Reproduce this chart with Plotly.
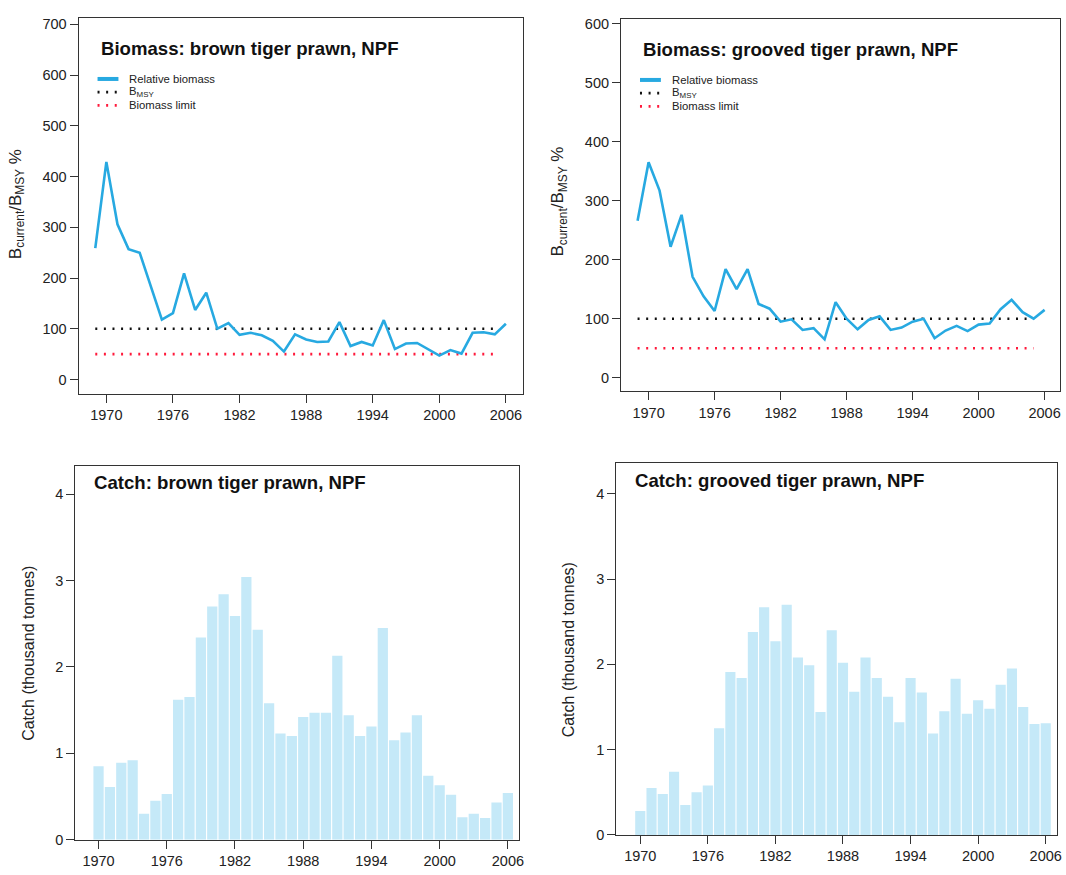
import plotly.graph_objects as go

# ---- data -------------------------------------------------------------
years_bio = list(range(1969, 2007))
brown_biomass = [259, 429, 306, 257, 250, 185, 118, 131, 209, 137,
                 171, 100, 111, 88, 92, 87, 76, 55, 89, 79,
                 74, 75, 113, 66, 74, 67, 117, 60, 71, 72,
                 59, 47, 58, 51, 92, 93, 89, 110]
grooved_biomass = [266, 365, 317, 222, 276, 171, 138, 113, 184, 150,
                   184, 125, 117, 95, 99, 81, 84, 65, 128, 100,
                   82, 98, 104, 81, 85, 95, 100, 67, 80, 88,
                   79, 90, 92, 116, 132, 111, 100, 115]
bmsy_level = 100
limit_level = 50
ref_years = list(range(1969, 2006))

years_catch = list(range(1970, 2007))
brown_catch = [0.85, 0.61, 0.89, 0.92, 0.30, 0.45, 0.53, 1.62, 1.65, 2.34,
               2.70, 2.84, 2.59, 3.04, 2.43, 1.58, 1.23, 1.20, 1.42, 1.47,
               1.47, 2.13, 1.44, 1.20, 1.31, 2.45, 1.15, 1.24, 1.44, 0.74,
               0.63, 0.52, 0.26, 0.30, 0.25, 0.43, 0.54]
grooved_catch = [0.28, 0.55, 0.48, 0.74, 0.35, 0.50, 0.58, 1.25, 1.91, 1.84,
                 2.38, 2.67, 2.27, 2.70, 2.08, 1.99, 1.44, 2.40, 2.02, 1.68,
                 2.08, 1.84, 1.62, 1.32, 1.84, 1.67, 1.19, 1.45, 1.83, 1.42,
                 1.58, 1.48, 1.76, 1.95, 1.50, 1.30, 1.31]

year_ticks = [1970, 1976, 1982, 1988, 1994, 2000, 2006]

# ---- styling ------------------------------------------------------------
W, H = 1066, 875
FONT = "Liberation Sans, Arial, Helvetica, sans-serif"
INK = "#222222"
LINE_BLUE = "#27a9e1"
BAR_BLUE = "#c5e9f8"
DOT = "2px,6.6px"


def px(x):
    return x / W


def py(y):
    return 1 - y / H


fig = go.Figure()

# biomass panels
for biomass, xa, ya in [(brown_biomass, "x", "y"), (grooved_biomass, "x2", "y2")]:
    fig.add_trace(go.Scatter(x=ref_years, y=[bmsy_level] * len(ref_years),
                             mode="lines", xaxis=xa, yaxis=ya,
                             line=dict(color="#111111", width=2.6, dash=DOT),
                             showlegend=False, hoverinfo="skip"))
    fig.add_trace(go.Scatter(x=ref_years, y=[limit_level] * len(ref_years),
                             mode="lines", xaxis=xa, yaxis=ya,
                             line=dict(color="#ff1a3c", width=2.6, dash=DOT),
                             showlegend=False, hoverinfo="skip"))
    fig.add_trace(go.Scatter(x=years_bio, y=biomass, mode="lines",
                             xaxis=xa, yaxis=ya,
                             line=dict(color=LINE_BLUE, width=2.6),
                             showlegend=False))

# catch panels
for catch, xa, ya in [(brown_catch, "x3", "y3"), (grooved_catch, "x4", "y4")]:
    fig.add_trace(go.Bar(x=years_catch, y=catch, xaxis=xa, yaxis=ya,
                         marker=dict(color=BAR_BLUE, line=dict(width=0)),
                         width=0.9, showlegend=False))

axis_common = dict(showline=True, mirror=True, linecolor="#333333", linewidth=1.2,
                   ticks="outside", ticklen=8, tickwidth=1, tickcolor="#333333",
                   showgrid=False, zeroline=False,
                   tickfont=dict(family=FONT, size=14.5, color=INK))

panels = {
    # name: (left, top, right, bottom) in pixels
    "1": (79, 14, 525, 395),
    "2": (624, 15.7, 1065, 392.7),
    "3": (75.7, 468, 521.7, 847.3),
    "4": (619.3, 465.7, 1062.3, 842.5),
}
ranges_y = {"1": [-27.8, 713], "2": [-23, 607], "3": [0, 4.33], "4": [0, 4.357]}
ranges_x = {"1": [1967.5, 2007.5], "2": [1967.5, 2007.4],
            "3": [1967.96, 2007.0], "4": [1967.88, 2007.03]}

layout_axes = {}
for k, (l, t, r, b) in panels.items():
    xname = "xaxis" if k == "1" else f"xaxis{k}"
    yname = "yaxis" if k == "1" else f"yaxis{k}"
    anchor_x = "y" if k == "1" else f"y{k}"
    anchor_y = "x" if k == "1" else f"x{k}"
    layout_axes[xname] = dict(axis_common, domain=[px(l), px(r)], anchor=anchor_x,
                              range=ranges_x[k], tickmode="array",
                              tickvals=year_ticks, ticktext=[str(v) for v in year_ticks])
    layout_axes[yname] = dict(axis_common, domain=[py(b), py(t)], anchor=anchor_y,
                              range=ranges_y[k],
                              dtick=100 if k in ("1", "2") else 1, tick0=0)

fig.update_layout(**layout_axes)

annotations = []
shapes = []

# panel titles
titles = [("Biomass: brown tiger prawn, NPF", 99, 45),
          ("Biomass: grooved tiger prawn, NPF", 644, 46),
          ("Catch: brown tiger prawn, NPF", 92, 485),
          ("Catch: grooved tiger prawn, NPF", 636, 483)]
for text, x, y in titles:
    annotations.append(dict(text=f"<b>{text}</b>", x=px(x), y=py(y), xref="paper", yref="paper",
                            xanchor="left", yanchor="middle", showarrow=False,
                            font=dict(family=FONT, size=18.6, color="#111111")))

# y-axis titles
ytitle_bio = "B<sub>current</sub>/B<sub>MSY</sub> %"
ytitle_catch = "Catch (thousand tonnes)"
for text, x, y, size in [(ytitle_bio, 17, 203, 17), (ytitle_bio, 562, 200, 17),
                         (ytitle_catch, 29, 658, 16), (ytitle_catch, 571, 655, 16)]:
    annotations.append(dict(text=text, x=px(x), y=py(y), xref="paper", yref="paper",
                            xanchor="center", yanchor="middle", textangle=-90,
                            showarrow=False, font=dict(family=FONT, size=size, color=INK)))

# legends
legend_items = [("Relative biomass", LINE_BLUE, "solid", 4),
                ("B<sub>MSY</sub>", "#111111", DOT, 2.6),
                ("Biomass limit", "#ff1a3c", DOT, 2.6)]
for lx, ly in [(98, 76), (643, 77)]:
    for i, (label, color, dash, w) in enumerate(legend_items):
        yy = ly + i * 13.4
        shapes.append(dict(type="line", xref="paper", yref="paper",
                           x0=px(lx), x1=px(lx + 21), y0=py(yy), y1=py(yy),
                           line=dict(color=color, width=w, dash=dash)))
        annotations.append(dict(text=label, x=px(lx + 30), y=py(yy), xref="paper", yref="paper",
                                xanchor="left", yanchor="middle", showarrow=False,
                                font=dict(family=FONT, size=11.3, color=INK)))

fig.update_layout(width=W, height=H, margin=dict(l=0, r=0, t=0, b=0),
                  paper_bgcolor="white", plot_bgcolor="white",
                  bargap=0.1, showlegend=False,
                  annotations=annotations, shapes=shapes,
                  font=dict(family=FONT, color=INK))

fig.write_html("out.html")
